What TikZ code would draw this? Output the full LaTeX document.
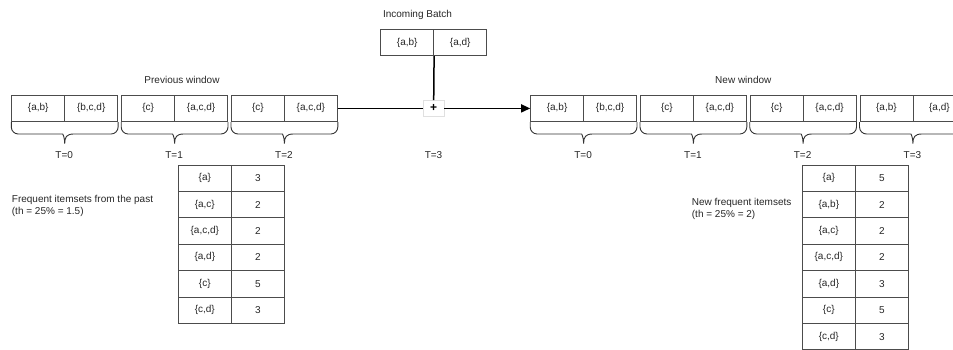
\documentclass[tikz,border=0pt]{standalone}
\usepackage{fontspec}
\setmainfont{Liberation Sans}
\usetikzlibrary{arrows.meta,calc}
\tikzset{
  cell/.style={draw=black!70, line width=0.8pt, minimum width=53pt, minimum height=26.4pt, inner sep=0pt, font=\fontsize{10}{12}\selectfont, text=black!85},
  lbl/.style={font=\fontsize{10}{12}\selectfont, text=black!85, inner sep=0pt},
  conn/.style={line width=1.5pt, black},
  bracestyle/.style={draw=black!80, line width=0.9pt},
  plusbox/.style={draw=black!12, fill=white, minimum width=21pt, minimum height=16pt, inner sep=0pt, font=\fontsize{12}{12}\selectfont\bfseries},
}
\newcommand\cellpair[5]{%
  \node[cell] (#1a) at (#2+26.5, #3) {#4};
  \node[cell] (#1b) at (#2+79.5, #3) {#5};}
\newcommand\tbrace[2]{%
  \draw[bracestyle] let \p1=(#1.south west), \p2=(#2.south east), \n1={(\x1+\x2)/2} in
    [rounded corners=7pt] (\p1) -- (\x1,\y1-12) -- (\n1-9,\y1-12)
    [sharp corners] .. controls (\n1-2,\y1-12) and (\n1,\y1-15) .. (\n1,\y1-21.5)
    .. controls (\n1,\y1-15) and (\n1+2,\y1-12) .. (\n1+9,\y1-12)
    [rounded corners=7pt] -- (\x2,\y1-12) -- (\p2);}
\newcommand\trow[5]{%
  \node[cell] (#1a) at (#2+26.5, {-(178.2+26.4*#3)}) {#4};
  \node[cell] (#1b) at (#2+79.5, {-(178.2+26.4*#3)}) {#5};}
\begin{document}
\begin{tikzpicture}[x=1pt,y=1pt]
\useasboundingbox (0,0) rectangle (953,-349);
% titles
\node[lbl] (prevtitle) at (182,-80) {Previous window};
\node[lbl] (batchtitle) at (417.5,-15) {Incoming Batch};
\node[lbl] (newtitle) at (743.3,-80) {New window};
% previous window
\cellpair{p0}{11.7}{-108.4}{\{a,b\}}{\{b,c,d\}}
\cellpair{p1}{121.6}{-108.4}{\{c\}}{\{a,c,d\}}
\cellpair{p2}{231.4}{-108.4}{\{c\}}{\{a,c,d\}}
% incoming batch
\cellpair{ib}{380.7}{-42.5}{\{a,b\}}{\{a,d\}}
% new window
\cellpair{n0}{530.6}{-108.4}{\{a,b\}}{\{b,c,d\}}
\cellpair{n1}{640.4}{-108.4}{\{c\}}{\{a,c,d\}}
\cellpair{n2}{750.1}{-108.4}{\{c\}}{\{a,c,d\}}
\cellpair{n3}{859.9}{-108.4}{\{a,b\}}{\{a,d\}}
% braces
\tbrace{p0a}{p0b}
\tbrace{p1a}{p1b}
\tbrace{p2a}{p2b}
\tbrace{n0a}{n0b}
\tbrace{n1a}{n1b}
\tbrace{n2a}{n2b}
\tbrace{n3a}{n3b}
% time labels
\node[lbl] (tp0) at (64.2,-155) {T=0};
\node[lbl] (tp1) at (174.1,-155) {T=1};
\node[lbl] (tp2) at (283.9,-155) {T=2};
\node[lbl] (tb3) at (433.5,-155) {T=3};
\node[lbl] (tn0) at (583.1,-155) {T=0};
\node[lbl] (tn1) at (692.9,-155) {T=1};
\node[lbl] (tn2) at (802.6,-155) {T=2};
\node[lbl] (tn3) at (912.4,-155) {T=3};
% plus and connectors
\node[plusbox] (plus) at (433.7,-108.4) {+};
\draw[conn] (p2b.east) -- (plus.west);
\draw[conn] (iba.south east) -- (plus.north);
\draw[conn, -{Triangle[length=9pt,width=8pt]}] (plus.east) -- (n0a.west);
% left table
\node[lbl, anchor=north west, align=left, font=\fontsize{10}{11.8}\selectfont] (pasttxt) at (11.7,-195.5) {Frequent itemsets from the past\\(th = 25\% = 1.5)};
\trow{l1}{178.3}{0}{\{a\}}{3}
\trow{l2}{178.3}{1}{\{a,c\}}{2}
\trow{l3}{178.3}{2}{\{a,c,d\}}{2}
\trow{l4}{178.3}{3}{\{a,d\}}{2}
\trow{l5}{178.3}{4}{\{c\}}{5}
\trow{l6}{178.3}{5}{\{c,d\}}{3}
% right table
\node[lbl, anchor=north west, align=left, font=\fontsize{10}{11.8}\selectfont] (newtxt) at (691.7,-198.5) {New frequent itemsets\\(th = 25\% = 2)};
\trow{r1}{802.3}{0}{\{a\}}{5}
\trow{r2}{802.3}{1}{\{a,b\}}{2}
\trow{r3}{802.3}{2}{\{a,c\}}{2}
\trow{r4}{802.3}{3}{\{a,c,d\}}{2}
\trow{r5}{802.3}{4}{\{a,d\}}{3}
\trow{r6}{802.3}{5}{\{c\}}{5}
\trow{r7}{802.3}{6}{\{c,d\}}{3}
\end{tikzpicture}
\end{document}
